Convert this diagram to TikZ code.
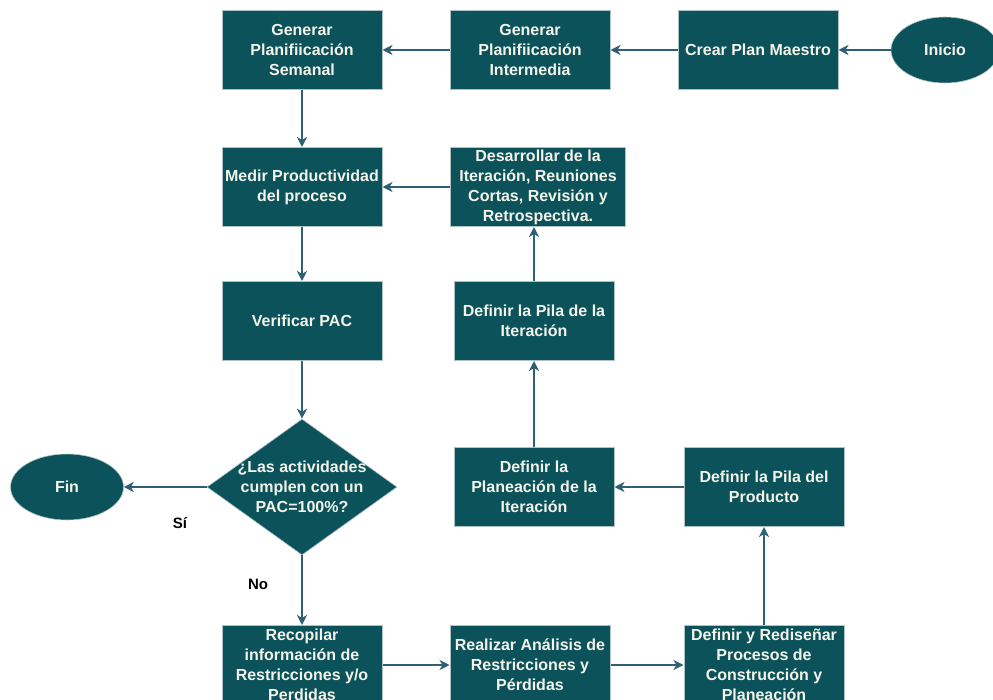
\documentclass[tikz,border=0pt]{standalone}
\usepackage{fontspec}
\setmainfont{Liberation Sans}
\usetikzlibrary{arrows.meta,shapes.geometric}
\definecolor{boxfill}{HTML}{0B525B}
\definecolor{boxedge}{HTML}{AFC3C6}
\definecolor{boxtext}{HTML}{F4F4EA}
\definecolor{flow}{HTML}{2F5F73}
\begin{document}
\begin{tikzpicture}[x=1pt,y=-1pt,
  txt/.style={text=boxtext, font=\bfseries\fontsize{16}{20}\selectfont, align=center},
  stepbox/.style={rectangle, fill=boxfill, draw=boxedge, line width=1pt,
    minimum width=160, minimum height=79, inner sep=0, txt},
  terminal/.style={ellipse, fill=boxfill, draw=boxedge, line width=0.6pt,
    minimum width=112, minimum height=66, inner sep=0, txt},
  decisionbox/.style={diamond, fill=boxfill, draw=boxedge, line width=0.6pt,
    minimum width=190, minimum height=136, inner sep=0},
  flowarrow/.style={draw=flow, line width=1.8pt, -{Stealth[length=10pt,width=10pt,inset=3pt]}},
  answer/.style={font=\bfseries\fontsize{15}{18}\selectfont, text=black}]
\path[use as bounding box] (0,0) rectangle (993,700);
\clip (0,0) rectangle (993,700);

% top row
\node[stepbox] (semanal) at (302,50) {Generar\\Planifiicación\\Semanal};
\node[stepbox] (intermedia) at (530,50) {Generar\\Planifiicación\\Intermedia};
\node[stepbox] (maestro) at (758,50) {Crear Plan Maestro};
\node[terminal, minimum width=108] (inicio) at (945,50) {Inicio};

% second row
\node[stepbox] (medir) at (302,187) {Medir Productividad\\del proceso};
\node[stepbox, minimum width=175] (desarrollar) at (538,187) {Desarrollar de la\\Iteración, Reuniones\\Cortas, Revisión y\\Retrospectiva.};

% third row
\node[stepbox] (verificar) at (302,321) {Verificar PAC};
\node[stepbox] (pilait) at (534,321) {Definir la Pila de la\\Iteración};

% decision row
\node[decisionbox] (decision) at (302,487) {};
\node[txt] (decisiontext) at (decision.center) {¿Las actividades\\cumplen con un\\PAC=100\%?};
\node[terminal, minimum width=113] (fin) at (67,487) {Fin};
\node[stepbox] (planeacion) at (534,487) {Definir la\\Planeación de la\\Iteración};
\node[stepbox] (pilaprod) at (764,487) {Definir la Pila del\\Producto};

% bottom row
\node[stepbox] (recopilar) at (302,665) {Recopilar\\información de\\Restricciones y/o\\Perdidas};
\node[stepbox] (realizar) at (530,665) {Realizar Análisis de\\Restricciones y\\Pérdidas};
\node[stepbox] (redisenar) at (764,665) {Definir y Rediseñar\\Procesos de\\Construcción y\\Planeación};

% answers
\node[answer] (si) at (180,523) {Sí};
\node[answer] (no) at (258,584) {No};

% connectors
\draw[flowarrow] (inicio) -- (maestro);
\draw[flowarrow] (maestro) -- (intermedia);
\draw[flowarrow] (intermedia) -- (semanal);
\draw[flowarrow] (semanal) -- (medir);
\draw[flowarrow] (medir) -- (verificar);
\draw[flowarrow] (verificar) -- (decision.north);
\draw[flowarrow] (decision.west) -- (fin);
\draw[flowarrow] (decision.south) -- (recopilar);
\draw[flowarrow] (recopilar) -- (realizar);
\draw[flowarrow] (realizar) -- (redisenar);
\draw[flowarrow] (redisenar) -- (pilaprod);
\draw[flowarrow] (pilaprod) -- (planeacion);
\draw[flowarrow] (planeacion) -- (pilait);
\draw[flowarrow] (pilait.north) -- (pilait.north |- desarrollar.south);
\draw[flowarrow] (desarrollar) -- (medir);
\end{tikzpicture}
\end{document}
